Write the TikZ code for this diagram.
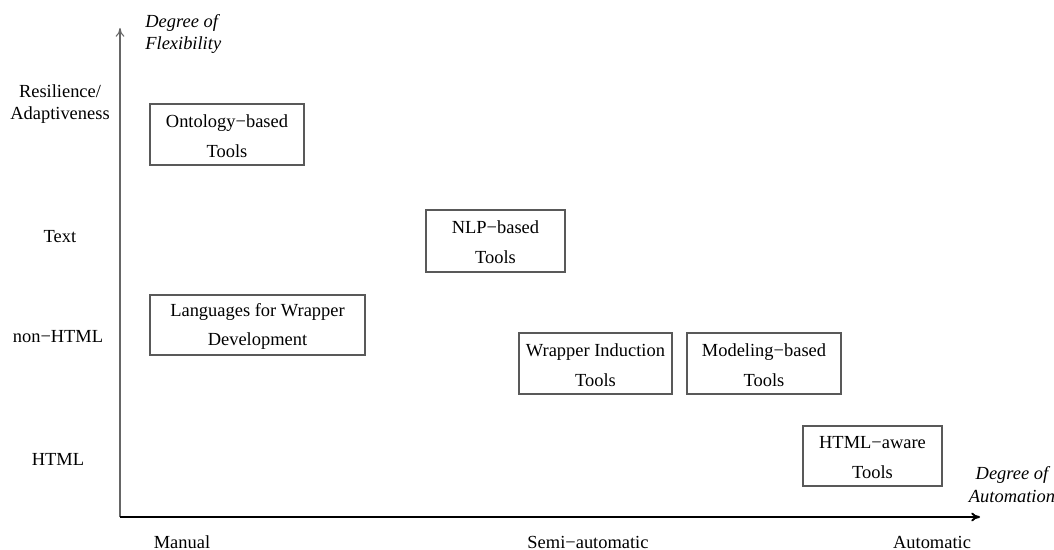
\documentclass[tikz,border=0pt]{standalone}
\usepackage{fontspec}
\setmainfont{Liberation Serif}
\usetikzlibrary{arrows.meta}
\newcommand{\firstline}{\rule[-5pt]{0pt}{14pt}}
\begin{document}
\begin{tikzpicture}[x=0.02cm,y=-0.02cm,
  toolbox/.style={draw=black!65,line width=0.6pt,align=center,inner sep=0pt,
    font=\fontsize{10.5}{17}\selectfont},
  tick/.style={font=\fontsize{10.5}{12.6}\selectfont,align=center,inner sep=0pt},
  axislabel/.style={font=\itshape\fontsize{10.5}{13}\selectfont,inner sep=0pt},
  axis/.style={-{To[length=5pt,width=5pt]}}]
\useasboundingbox (0,0) rectangle (1054,550);

% axes
\coordinate (origin) at (120,517);
\coordinate (ytop) at (120,28);
\coordinate (xend) at (980,517);
\draw[axis,black!60,line width=0.6pt] (origin) -- (ytop);
\draw[axis,black,line width=1.1pt] (origin) -- (xend);

% axis titles
\node[axislabel,align=left,anchor=west] (yname) at (145,34) {Degree of\\Flexibility};
\node[axislabel,align=center] (xname) at (1012,485) {Degree of\\Automation};

% levels of flexibility
\node[tick] (res) at (60,104) {Resilience/\\Adaptiveness};
\node[tick] (text) at (60,237) {Text};
\node[tick] (nonhtml) at (58,337) {non\textminus HTML};
\node[tick] (html) at (58,459) {HTML};

% levels of automation
\node[tick] (manual) at (182,542) {Manual};
\node[tick] (semi) at (588,542) {Semi\textminus automatic};
\node[tick] (auto) at (932,542) {Automatic};

% tool families
\node[toolbox,minimum width=3.08cm,minimum height=1.22cm] (onto) at (227,134.5)
  {\firstline Ontology\textminus based\\Tools};
\node[toolbox,minimum width=2.78cm,minimum height=1.24cm] (nlp) at (495.5,241)
  {\firstline NLP\textminus based\\Tools};
\node[toolbox,minimum width=4.30cm,minimum height=1.20cm] (lang) at (257.5,325)
  {\firstline Languages for Wrapper\\Development};
\node[toolbox,minimum width=3.06cm,minimum height=1.22cm] (wind) at (595.5,363.5)
  {\firstline Wrapper Induction\\Tools};
\node[toolbox,minimum width=3.08cm,minimum height=1.22cm] (model) at (764,363.5)
  {\firstline Modeling\textminus based\\Tools};
\node[toolbox,minimum width=2.78cm,minimum height=1.20cm] (htmlaware) at (872.5,456)
  {\firstline HTML\textminus aware\\Tools};
\end{tikzpicture}
\end{document}
